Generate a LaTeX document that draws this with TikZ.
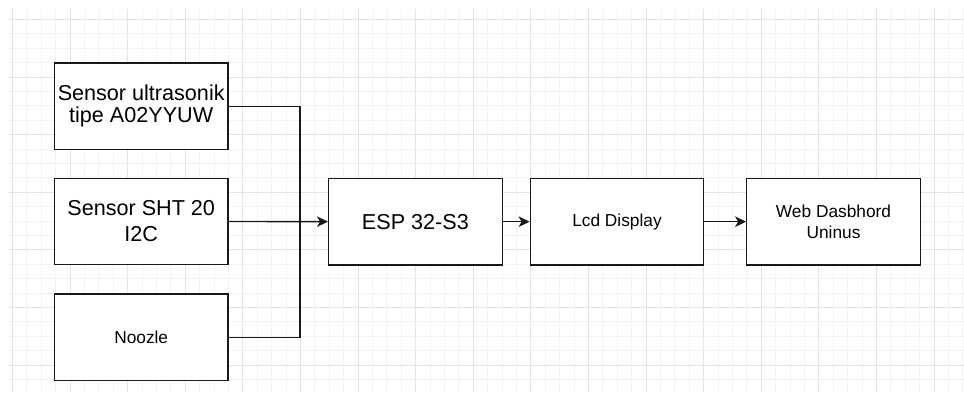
\documentclass[tikz,border=0pt]{standalone}
\usepackage{fontspec}
\setmainfont{Liberation Sans}
\usetikzlibrary{arrows.meta}
\definecolor{gridmajor}{HTML}{E4E4E4}
\definecolor{gridminor}{HTML}{F3F3F3}
\begin{document}
\begin{tikzpicture}[x=1pt,y=-1pt,
  block/.style={draw=black!90, line width=1.3pt, fill=white, minimum width=173.5pt, minimum height=86.5pt, inner sep=0pt, align=center},
  big/.style={font=\fontsize{21.6}{26}\selectfont},
  small/.style={font=\fontsize{17.3}{21.7}\selectfont},
  wire/.style={draw=black!90, line width=1.3pt},
  link/.style={wire, -{Stealth[length=11pt,width=10.5pt,inset=3pt]}}]
\useasboundingbox (0,0) rectangle (964,392);
\fill[white] (0,0) rectangle (964,392);
% grid
\foreach \i in {0,...,66} \draw[gridminor, line width=0.7pt] ({12.4+14.4*\i},9) -- ({12.4+14.4*\i},392);
\foreach \j in {0,...,25} \draw[gridminor, line width=0.7pt] (8,{19.3+14.4*\j}) -- (964,{19.3+14.4*\j});
\foreach \i in {0,...,16} \draw[gridmajor, line width=0.8pt] ({12.4+57.6*\i},9) -- ({12.4+57.6*\i},392);
\foreach \j in {0,...,6} \draw[gridmajor, line width=0.8pt] (8,{19.3+57.6*\j}) -- (964,{19.3+57.6*\j});
% blocks
\node[block, font=\fontsize{21.6}{21.7}\selectfont] (ultra) at (141.2,106.2) {Sensor ultrasonik\\tipe A02YYUW};
\node[block, big] (sht) at (141.2,221.5) {Sensor SHT 20\\I2C};
\node[block, small] (noozle) at (141.2,337.2) {Noozle};
\node[block, big] (esp) at (415.4,221.7) {ESP 32-S3};
\node[block, small] (lcd) at (617,221.7) {Lcd Display};
\node[block, small] (web) at (833.5,221.7) {Web Dasbhord\\Uninus};
% connectors
\coordinate (bus) at (300,221.5);
\draw[wire] (ultra.east) -| (bus) |- (noozle.east);
\draw[link] (sht) -- (esp);
\draw[link] (esp) -- (lcd);
\draw[link] (lcd) -- (web);
\end{tikzpicture}
\end{document}
